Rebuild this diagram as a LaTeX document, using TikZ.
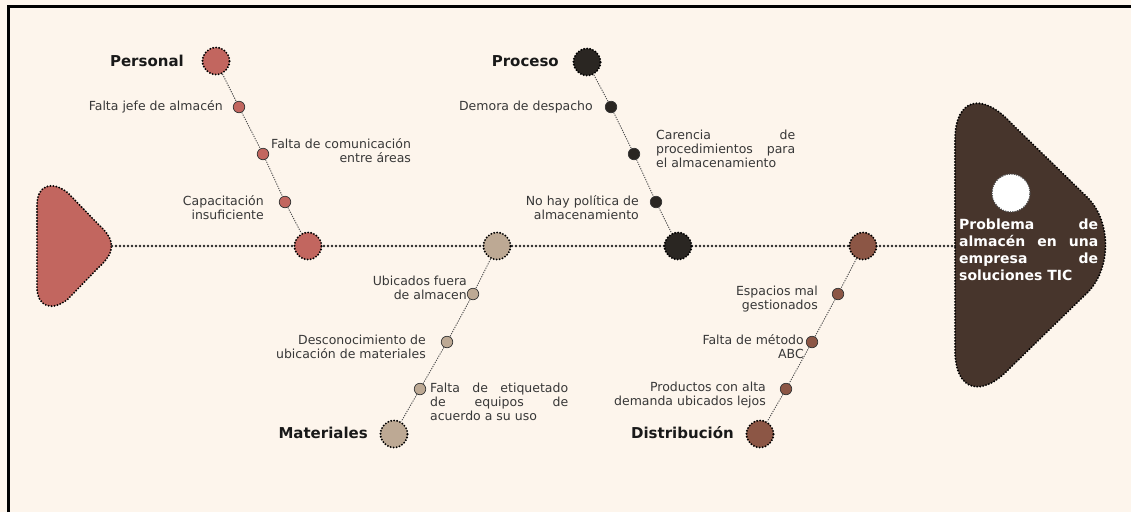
\documentclass[tikz,border=0pt]{standalone}
\usepackage{fontspec}
\setmainfont{DejaVu Sans}
\definecolor{bg}{HTML}{FDF5EC}
\definecolor{cPers}{HTML}{C2665F}
\definecolor{cProc}{HTML}{2A2622}
\definecolor{cMat}{HTML}{BDA994}
\definecolor{cDist}{HTML}{8C5645}
\definecolor{cHead}{HTML}{47352C}
\definecolor{txt}{HTML}{383838}
\begin{document}
\begin{tikzpicture}[x=1pt,y=-1pt,
  big/.style={circle,minimum size=27pt,inner sep=0pt,draw=black,line width=2.1pt,dash pattern=on 0pt off 3pt,line cap=round},
  small/.style={circle,minimum size=11.5pt,inner sep=0pt,draw=black!80,line width=0.7pt},
  bone/.style={draw=black!70,line width=0.9pt,dash pattern=on 1.2pt off 1.2pt},
  spine/.style={draw=black!85,line width=2.6pt,dash pattern=on 0pt off 4pt,line cap=round},
  lbl/.style={font=\fontsize{12.5}{14}\selectfont,text=txt,inner sep=0pt},
  ttl/.style={font=\fontsize{15}{18}\selectfont\bfseries,text=black!90,inner sep=0pt},
  blob/.style={line width=2.1pt,dash pattern=on 0pt off 3pt,line cap=round,draw=black}]
\fill[bg] (0,0) rectangle (1131,512);
\useasboundingbox (0,0) rectangle (1131,512);
\draw[line width=3pt] (8,512) -- (8,6.5) -- (1131,6.5);
% tail
\path[fill=cPers,blob] (37,230) -- (37,205) .. controls (37,185) and (52,180) .. (68,193) -- (98,224)
  .. controls (116,240) and (116,252) .. (98,268) -- (68,299) .. controls (52,312) and (37,307) .. (37,287) -- cycle;
% head
\path[fill=cHead,blob] (955,246) -- (955,140) .. controls (955,98) and (982,92) .. (1010,122) -- (1086,196)
  .. controls (1112,220) and (1112,270) .. (1086,294) -- (1010,368) .. controls (982,398) and (955,392) .. (955,350) -- cycle;
\coordinate (tailtip) at (112,246);
\coordinate (headL) at (955,246);
\draw[spine] (tailtip) -- (headL);
\node[circle,minimum size=38pt,inner sep=0pt,fill=white,draw=black!70,line width=1.6pt,dash pattern=on 0pt off 2.4pt,line cap=round] (hc) at (1011,193) {};
\node[anchor=west,inner sep=0pt,text=white,font=\fontsize{14}{17}\selectfont\bfseries,align=left] (head) at (959,250)
  {\makebox[139pt][s]{Problema de}\\\makebox[139pt][s]{almacén en una}\\\makebox[139pt][s]{empresa de}\\soluciones TIC};
% Personal
\node[big,fill=cPers] (P0) at (216,61) {};
\node[small,fill=cPers] (P1) at (239,107) {};
\node[small,fill=cPers] (P2) at (263,154) {};
\node[small,fill=cPers] (P3) at (285,202) {};
\node[big,fill=cPers] (P4) at (308,246) {};
\draw[bone] (P0) -- (P1) -- (P2) -- (P3) -- (P4);
% Proceso
\node[big,fill=cProc] (R0) at (587,62) {};
\node[small,fill=cProc] (R1) at (611,107) {};
\node[small,fill=cProc] (R2) at (634,154) {};
\node[small,fill=cProc] (R3) at (656,202) {};
\node[big,fill=cProc] (R4) at (678,246) {};
\draw[bone] (R0) -- (R1) -- (R2) -- (R3) -- (R4);
% Materiales
\node[big,fill=cMat] (M0) at (497,246) {};
\node[small,fill=cMat] (M1) at (473,294) {};
\node[small,fill=cMat] (M2) at (447,342) {};
\node[small,fill=cMat] (M3) at (420,389) {};
\node[big,fill=cMat] (M4) at (394,434) {};
\draw[bone] (M0) -- (M1) -- (M2) -- (M3) -- (M4);
% Distribucion
\node[big,fill=cDist] (D0) at (863,246) {};
\node[small,fill=cDist] (D1) at (838,294) {};
\node[small,fill=cDist] (D2) at (812,342) {};
\node[small,fill=cDist] (D3) at (786,389) {};
\node[big,fill=cDist] (D4) at (760,434) {};
\draw[bone] (D0) -- (D1) -- (D2) -- (D3) -- (D4);
% titles
\node[ttl,anchor=east] (tP) at (184,61) {Personal};
\node[ttl,anchor=east] (tR) at (559,61) {Proceso};
\node[ttl,anchor=east] (tM) at (368,433) {Materiales};
\node[ttl,anchor=east] (tD) at (734,433) {Distribución};
% labels
\node[lbl,anchor=east] (l1) at (223,107) {Falta jefe de almacén};
\node[lbl,anchor=west,align=right] (l2) at (271,151) {Falta de comunicación\\entre áreas};
\node[lbl,anchor=east,align=right] (l3) at (264,208) {Capacitación\\insuficiente};
\node[lbl,anchor=east] (l4) at (593,107) {Demora de despacho};
\node[lbl,anchor=west,align=left] (l5) at (656,149) {\makebox[139pt][s]{Carencia de}\\\makebox[139pt][s]{procedimientos para}\\el almacenamiento};
\node[lbl,anchor=east,align=right] (l6) at (639,208) {No hay política de\\almacenamiento};
\node[lbl,anchor=east,align=right] (l7) at (467,288) {Ubicados fuera\\de almacen};
\node[lbl,anchor=east,align=right] (l8) at (426,347) {Desconocimiento de\\ubicación de materiales};
\node[lbl,anchor=west,align=left] (l9) at (430,402) {\makebox[138pt][s]{Falta de etiquetado}\\\makebox[138pt][s]{de equipos de}\\acuerdo a su uso};
\node[lbl,anchor=east,align=right] (l10) at (818,299) {Espacios mal\\gestionados};
\node[lbl,anchor=east,align=right] (l11) at (804,347) {Falta de método\\ABC};
\node[lbl,anchor=east,align=right] (l12) at (766,395) {Productos con alta\\demanda ubicados lejos};
\end{tikzpicture}
\end{document}
